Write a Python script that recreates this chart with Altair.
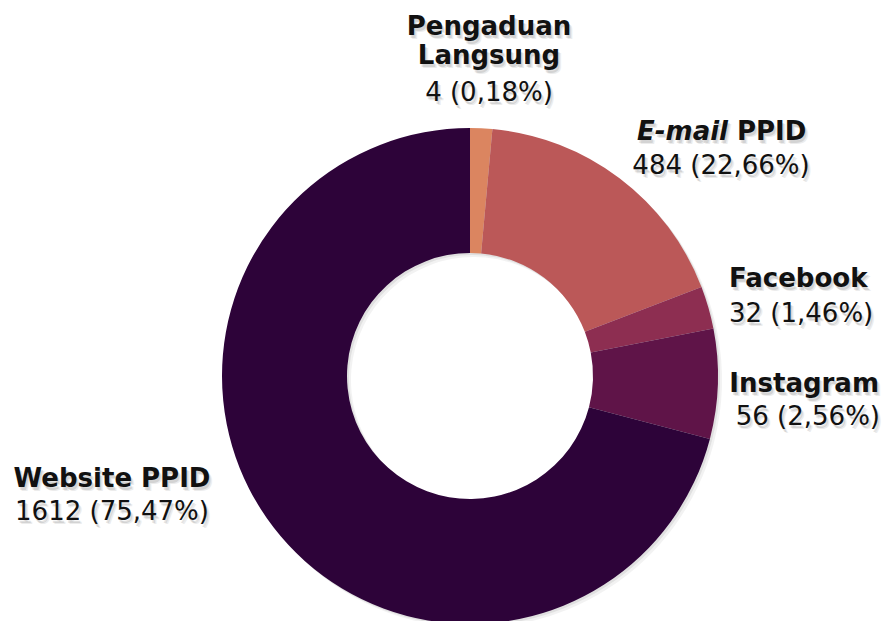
import altair as alt
import pandas as pd

# ---- data ----
categories = ["Pengaduan Langsung", "E-mail PPID", "Facebook", "Instagram", "Website PPID"]
names = ["Pengaduan\nLangsung", "E-mail PPID", "Facebook", "Instagram", "Website PPID"]
counts = [4, 484, 32, 56, 1612]
percent_text = ["0,18", "22,66", "1,46", "2,56", "75,47"]
# share of the ring each slice occupies as drawn (percent of the circle)
slice_share = [1.44, 17.72, 2.78, 7.14, 70.92]
colors = ["#DB8560", "#BB5858", "#8D2E51", "#5F1448", "#2D0339"]

df = pd.DataFrame({
    "cat": categories,
    "name": names,
    "count": counts,
    "pct": percent_text,
    "share": slice_share,
    "order": list(range(len(categories))),
})
df["value_label"] = df["count"].astype(str) + " (" + df["pct"] + "%)"

# ---- layout ----
PAD = 8
CX, CY = 470 - PAD, 376 - PAD
R_OUT, R_IN = 248, 123
FONT = "DejaVu Sans"
FS = 26

base = alt.Chart(df)
theta = alt.Theta("share:Q", stack=True)
order = alt.Order("order:Q")

layers = []
# soft drop shadow of the ring
for off, op in [(2, 0.07), (4, 0.05)]:
    layers.append(
        base.mark_arc(radius=R_OUT, radius2=R_IN, color="#000000", opacity=op).encode(
            theta=theta, order=order, x=alt.value(CX + off), y=alt.value(CY + off)
        )
    )
layers.append(
    base.mark_arc(radius=R_OUT, radius2=R_IN).encode(
        theta=theta,
        order=order,
        color=alt.Color("cat:N", scale=alt.Scale(domain=categories, range=colors), legend=None),
        x=alt.value(CX),
        y=alt.value(CY),
    )
)

SHADOWS = [(1.5, 2.5, 0.10), (3, 4, 0.07)]


def text_layers(cat, expr, x, y, align, weight="normal", style="normal", line_height=29):
    out = []
    specs = [(dx, dy, "#000000", op) for dx, dy, op in SHADOWS] + [(0, 0, "#111111", 1.0)]
    for dx, dy, col, op in specs:
        out.append(
            base.transform_filter(alt.datum.cat == cat)
            .transform_calculate(t=expr)
            .mark_text(
                font=FONT, fontSize=FS, fontWeight=weight, fontStyle=style,
                align=align, baseline="alphabetic", lineBreak="\n", lineHeight=line_height,
                color=col, opacity=op,
            )
            .encode(text="t:N", x=alt.value(x - PAD + dx), y=alt.value(y - PAD + dy))
        )
    return out


# label placements: (x, name baseline, value baseline, align)
layers += text_layers("Pengaduan Langsung", "datum.name", 489, 35, "center", weight="bold")
layers += text_layers("Pengaduan Langsung", "datum.value_label", 489, 101, "center")

layers += text_layers("E-mail PPID", "split(datum.name, ' ')[0]", 728, 140, "right", weight="bold", style="italic")
layers += text_layers("E-mail PPID", "split(datum.name, ' ')[1]", 737, 140, "left", weight="bold")
layers += text_layers("E-mail PPID", "datum.value_label", 721, 174, "center")

layers += text_layers("Facebook", "datum.name", 729, 287, "left", weight="bold")
layers += text_layers("Facebook", "datum.value_label", 729, 322, "left")

layers += text_layers("Instagram", "datum.name", 879, 392, "right", weight="bold")
layers += text_layers("Instagram", "datum.value_label", 880, 425, "right")

layers += text_layers("Website PPID", "datum.name", 112, 487, "center", weight="bold")
layers += text_layers("Website PPID", "datum.value_label", 112, 520, "center")

chart = (
    alt.layer(*layers)
    .properties(
        width=874,
        height=613,
        padding=0,
        autosize=alt.AutoSizeParams(type="none"),
        background="white",
    )
    .configure_view(stroke=None)
)

chart.save("out.html", embed_options={"renderer": "svg", "actions": False})
